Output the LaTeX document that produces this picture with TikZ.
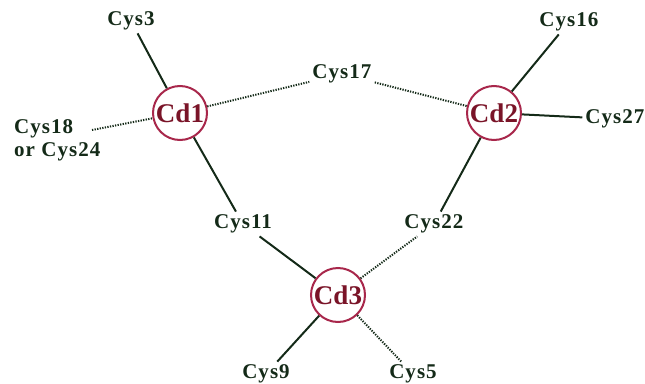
\documentclass[tikz,border=0pt]{standalone}
\usepackage{fontspec}
\setmainfont{Liberation Serif}
\newfontfamily\cysfont[LetterSpace=5]{Liberation Serif}
\definecolor{ink}{HTML}{142A18}
\definecolor{ring}{HTML}{A8274B}
\definecolor{cdtxt}{HTML}{7A1428}
\begin{document}
\begin{tikzpicture}[x=1pt,y=-1pt,
  cys/.style={font=\cysfont\fontsize{21}{23}\selectfont\bfseries, text=ink, inner sep=3pt},
  cd/.style={circle, draw=ring, line width=2pt, fill=white, minimum size=54pt, inner sep=0pt,
    font=\fontsize{27}{29}\selectfont\bfseries, text=cdtxt},
  bond/.style={draw=ink, line width=2pt},
  weak/.style={draw=ink, line width=2pt, dash pattern=on 1.3pt off 1.3pt}]
\useasboundingbox (0,0) rectangle (645,383);
\node[cd] (cd1) at (180,113) {Cd1};
\node[cd] (cd2) at (494,113) {Cd2};
\node[cd] (cd3) at (338,295) {Cd3};
\node[cys] (c3) at (131,21) {Cys3};
\node[cys] (c16) at (569,22) {Cys16};
\node[cys] (c17) at (342,74) {Cys17};
\node[cys] (c27) at (615,119) {Cys27};
\node[cys, align=left, anchor=west, inner sep=1pt] (c18) at (13,140) {Cys18\\or Cys24};
\node[cys] (c11) at (243,224) {Cys11};
\node[cys] (c22) at (434,224) {Cys22};
\node[cys] (c9) at (266,374) {Cys9};
\node[cys] (c5) at (413,374) {Cys5};
\coordinate (c18e) at (92,130);
\draw[bond] (cd1) -- (c3);
\draw[bond] (cd1) -- (c11);
\draw[bond] (c11) -- (cd3);
\draw[bond] (cd3) -- (c9);
\draw[weak] (cd3) -- (c5);
\draw[weak] (cd3) -- (c22);
\draw[bond] (c22) -- (cd2);
\draw[bond] (cd2) -- (c16);
\draw[bond] (cd2) -- (c27);
\draw[weak] (cd1) -- (c17);
\draw[weak] (c17) -- (cd2);
\draw[weak] (c18e) -- (cd1);
\end{tikzpicture}
\end{document}
